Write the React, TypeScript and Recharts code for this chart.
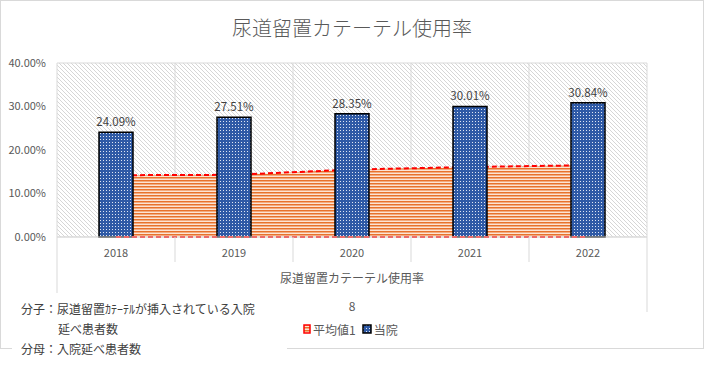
import React from "react";
import {
  Area,
  Bar,
  CartesianGrid,
  ComposedChart,
  LabelList,
  ReferenceLine,
  XAxis,
  YAxis,
} from "recharts";

const years = ["2018", "2019", "2020", "2021", "2022"];
const hospitalRate = [24.09, 27.51, 28.35, 30.01, 30.84];
const averageRate = [14.2, 14.3, 15.5, 16.1, 16.5];
const yTicks = [0, 10, 20, 30, 40];

const data = years.map((year, i) => ({
  year,
  hospital: hospitalRate[i],
  average: averageRate[i],
}));

const FONT = '"Noto Sans CJK JP", "Noto Sans", sans-serif';
const pct = (v: number) => `${Number(v).toFixed(2)}%`;

function CategoryTick(props: any) {
  const { x, y, payload, index, width, visibleTicksCount } = props;
  const half = payload.offset ?? width / visibleTicksCount / 2;
  const top = y - 8;
  const last = index === visibleTicksCount - 1;
  return (
    <g>
      <line
        x1={x - half}
        x2={x - half}
        y1={top}
        y2={top + (index === 0 ? 75 : 25)}
        stroke="#d9d9d9"
      />
      {last && (
        <line x1={x + half} x2={x + half} y1={top} y2={top + 75} stroke="#d9d9d9" />
      )}
      <text
        x={x}
        y={top + 20}
        textAnchor="middle"
        fill="#595959"
        fontSize={11}
        fontFamily={FONT}
      >
        {payload.value}
      </text>
    </g>
  );
}

export default function App() {
  return (
    <div
      style={{
        position: "absolute",
        left: 0,
        top: 0,
        width: 704,
        height: 372,
        background: "#fff",
        fontFamily: FONT,
      }}
    >
      <svg width={0} height={0} style={{ position: "absolute" }}>
        <defs>
          <pattern id="hatch" width={4} height={4} patternUnits="userSpaceOnUse">
            <rect width={4} height={4} fill="#ffffff" />
            <path d="M-1,-1 L5,5 M-1,3 L1,5 M3,-1 L5,1" stroke="#c4c4c4" strokeWidth={0.7} />
          </pattern>
          <pattern id="stripes" width={3} height={3} patternUnits="userSpaceOnUse">
            <rect width={3} height={3} fill="#fce4d4" />
            <rect width={3} height={1.5} fill="#e8722c" />
          </pattern>
          <pattern id="dots" width={3} height={3} patternUnits="userSpaceOnUse">
            <rect width={3} height={3} fill="#2f5aa6" />
            <rect x={1} y={1} width={1} height={1} fill="#dfe6f3" />
          </pattern>
        </defs>
      </svg>

      <div
        style={{
          position: "absolute",
          left: 0,
          top: 0,
          width: 704,
          height: 349,
          border: "1px solid #d9d9d9",
          boxSizing: "border-box",
        }}
      />

      <div
        style={{
          position: "absolute",
          left: 0,
          width: 704,
          top: 14,
          textAlign: "center",
          fontSize: 20,
          fontWeight: 300,
          color: "#595959",
          lineHeight: "28px",
        }}
      >
        尿道留置カテーテル使用率
      </div>

      <ComposedChart
        width={704}
        height={372}
        data={data}
        margin={{ top: 63, right: 0, left: 0, bottom: 60 }}
        style={{ position: "absolute", left: 0, top: 0 }}
      >
        <CartesianGrid
          stroke="#d9d9d9"
          fill="url(#hatch)"
          verticalCoordinatesGenerator={({ offset }: any) =>
            years.map((_, i) => offset.left + (i * offset.width) / years.length).concat(
              offset.left + offset.width
            )
          }
        />
        <XAxis
          dataKey="year"
          height={75}
          tickLine={false}
          axisLine={{ stroke: "#d9d9d9" }}
          tick={<CategoryTick />}
          interval={0}
          label={{
            value: "尿道留置カテーテル使用率",
            position: "insideBottom",
            offset: 29,
            fill: "#595959",
            fontSize: 12,
            fontFamily: FONT,
          }}
        />
        <YAxis
          yAxisId="left"
          width={57}
          domain={[0, 40]}
          ticks={yTicks}
          tickFormatter={pct}
          axisLine={false}
          tickLine={false}
          tickMargin={5}
          tick={{ fill: "#595959", fontSize: 11, fontFamily: FONT }}
        />
        <YAxis
          yAxisId="right"
          orientation="right"
          width={57}
          domain={[0, 40]}
          ticks={yTicks}
          tickFormatter={pct}
          axisLine={false}
          tickLine={false}
          tickMargin={4}
          tick={{ fill: "#595959", fontSize: 11, fontFamily: FONT, textAnchor: "start" }}
        />
        <Area
          yAxisId="left"
          type="linear"
          dataKey="average"
          fill="url(#stripes)"
          fillOpacity={1}
          stroke="#ff0000"
          strokeWidth={2}
          strokeDasharray="5 3"
          isAnimationActive={false}
        />
        <ReferenceLine
          yAxisId="left"
          segment={[
            { x: years[0], y: 0 },
            { x: years[years.length - 1], y: 0 },
          ]}
          stroke="#ff0000"
          strokeWidth={2}
          strokeDasharray="5 3"
        />
        <Bar
          yAxisId="left"
          dataKey="hospital"
          barSize={34}
          fill="url(#dots)"
          stroke="#000000"
          strokeWidth={1.5}
          isAnimationActive={false}
        >
          <LabelList
            dataKey="hospital"
            position="top"
            offset={6}
            formatter={pct}
            fill="#404040"
            fontSize={11.5}
            fontFamily={FONT}
          />
        </Bar>
      </ComposedChart>

      <div
        style={{
          position: "absolute",
          left: 0,
          width: 704,
          top: 297,
          textAlign: "center",
          fontSize: 12,
          color: "#595959",
          lineHeight: "18px",
        }}
      >
        8
      </div>

      <div
        style={{
          position: "absolute",
          left: 303,
          top: 320,
          height: 18,
          display: "flex",
          alignItems: "center",
          fontSize: 12,
          color: "#595959",
        }}
      >
        <svg width={8} height={10} style={{ marginRight: 2 }}>
          <rect x={1} y={1} width={6} height={8} fill="url(#stripes)" stroke="#ff0000" strokeWidth={1.5} />
        </svg>
        <span>平均値1</span>
        <svg width={10} height={10} style={{ marginLeft: 6, marginRight: 2 }}>
          <rect x={1} y={1} width={8} height={8} fill="url(#dots)" stroke="#000" strokeWidth={1.5} />
        </svg>
        <span>当院</span>
      </div>

      <div
        style={{
          position: "absolute",
          left: 12,
          top: 293,
          width: 275,
          height: 79,
          background: "#fff",
          fontSize: 12,
          color: "#404040",
          lineHeight: "20px",
        }}
      >
        <div style={{ position: "absolute", left: 9, top: 6, whiteSpace: "nowrap" }}>
          分子：尿道留置ｶﾃｰﾃﾙが挿入されている入院
        </div>
        <div style={{ position: "absolute", left: 46, top: 26, whiteSpace: "nowrap" }}>
          延べ患者数
        </div>
        <div style={{ position: "absolute", left: 9, top: 46, whiteSpace: "nowrap" }}>
          分母：入院延べ患者数
        </div>
      </div>
    </div>
  );
}
